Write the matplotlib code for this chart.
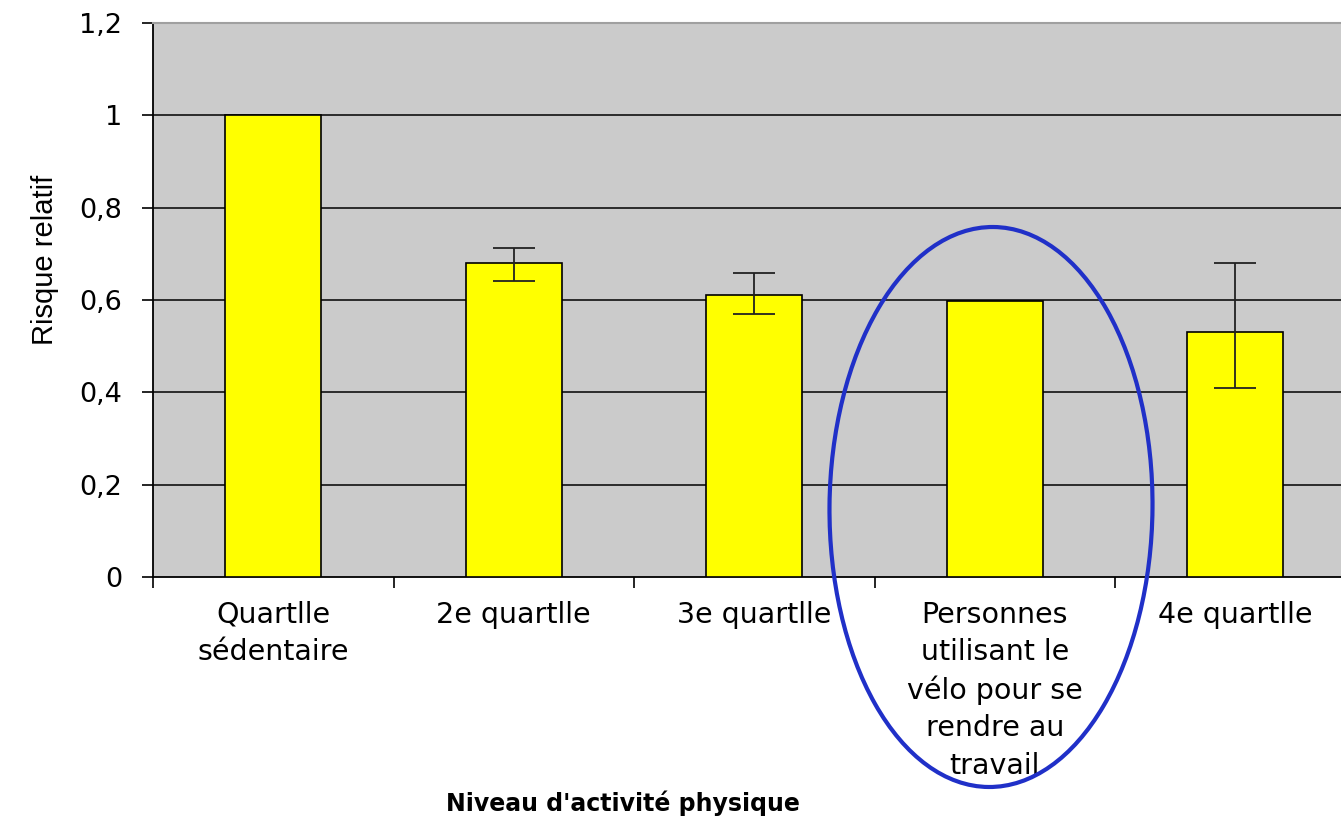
import matplotlib
matplotlib.use("Agg")
import matplotlib.pyplot as plt
from matplotlib.patches import Ellipse
import numpy as np

categories = ["Quartlle\nsédentaire", "2e quartlle", "3e quartlle",
              "Personnes\nutilisant le\nvélo pour se\nrendre au\ntravail", "4e quartlle"]
values = [1.0, 0.68, 0.61, 0.597, 0.53]
err_low = [np.nan, 0.641, 0.570, np.nan, 0.41]
err_high = [np.nan, 0.713, 0.659, np.nan, 0.68]
yticks = [0, 0.2, 0.4, 0.6, 0.8, 1.0, 1.2]
ytick_labels = ["0", "0,2", "0,4", "0,6", "0,8", "1", "1,2"]

W, H = 1341, 822
fig = plt.figure(figsize=(W / 100, H / 100), dpi=100)
ax = fig.add_axes([153 / W, 1 - 577 / H, 1202.5 / W, 554 / H])
ax.set_facecolor("#CBCBCB")

x = np.arange(len(categories))
ax.bar(x, values, width=0.4, color="#FFFF00", edgecolor="black", linewidth=1.2, zorder=3)
for xi, v, lo, hi in zip(x, values, err_low, err_high):
    if not np.isnan(lo):
        ax.errorbar([xi], [v], yerr=[[v - lo], [hi - v]], fmt="none", ecolor="#222222",
                    elinewidth=1.3, capsize=15, capthick=1.3, zorder=4)

ax.set_xlim(-0.5, len(categories) - 0.5)
ax.set_ylim(0, 1.2)
ax.set_yticks(yticks)
ax.set_yticklabels(ytick_labels, fontsize=19.5, family="DejaVu Sans")
for yv in yticks[1:-1]:
    ax.axhline(yv, color="black", linewidth=1.1, zorder=1)

ax.set_xticks(x)
ax.set_xticklabels(categories, fontsize=20.5, family="DejaVu Sans", linespacing=1.42,
                   va="top")
ax.set_xticks(np.arange(-0.5, len(categories), 1.0), minor=True)
ax.tick_params(axis="x", which="major", length=0, pad=17)
ax.tick_params(axis="x", which="minor", length=8, width=1.2, color="black", direction="out")
ax.tick_params(axis="y", length=8, width=1.2, direction="out", pad=14)

for s in ["left", "bottom"]:
    ax.spines[s].set_color("black")
    ax.spines[s].set_linewidth(1.3)
ax.spines["top"].set_color("#A0A0A0")
ax.spines["top"].set_linewidth(1.5)
ax.spines["right"].set_visible(False)

fig.text(45 / W, 1 - 260 / H, "Risque relatif", rotation=90, ha="center", va="center",
         fontsize=21, family="Liberation Sans")
fig.text(623 / W, 1 - 803 / H, "Niveau d'activité physique", ha="center", va="center",
         fontsize=17, fontweight="bold", family="DejaVu Sans")

ell = Ellipse((9.91, (H - 507) / 100), 3.23, 5.60, angle=-0.5,
              transform=fig.dpi_scale_trans,
              fill=False, edgecolor="#2030C8", linewidth=3, zorder=10)
fig.patches.append(ell)

fig.savefig("out.png", dpi=100)
